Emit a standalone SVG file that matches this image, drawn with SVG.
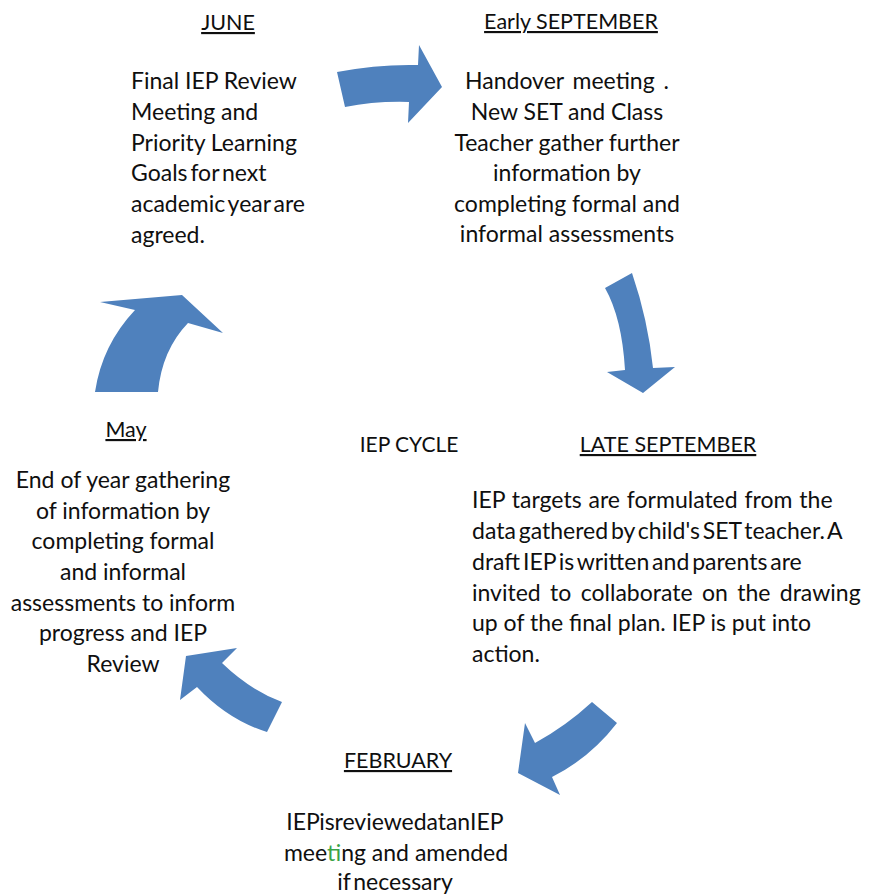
<svg xmlns="http://www.w3.org/2000/svg" width="871" height="894" viewBox="0 0 871 894">
<style>
  text { font-family: Lato, "Liberation Sans", sans-serif; font-size: 23px; fill: #0f0f0f; }
  .h { text-decoration: underline; font-size: 21.5px; }
  .c { text-anchor: middle; }
  .arrow { fill: #4f81bd; stroke: none; }
  .tight { word-spacing: -3px; }
  .wide { word-spacing: 3.5px; }
</style>
<rect width="871" height="894" fill="#ffffff"/>
<g id="connectors">
  <path class="arrow" d="M337,72 Q378,64 418,65 L419,45 L442,87 L408,123 L409,102 Q375,101 345,107 Z"/>
  <path class="arrow" d="M605,288 L632,273 Q648,320 653,368 L675,367 L643,393 L607,372 L625,370 Q622,318 605,288 Z"/>
  <path class="arrow" d="M592,702 L617,723 Q590,758 552,777 L560,795 L518,773 L525,723 L535,743 Q566,726 592,702 Z"/>
  <path class="arrow" d="M282,702 L267,732 Q228,720 197,687 L180,700 L186,656 L237,648 L222,663 Q250,690 282,702 Z"/>
  <path class="arrow" d="M95,392 L158,392 Q162,350 188,323 L223,333 L182,295 L100,302 L135,310 Q102,345 95,392 Z"/>
</g>
<g id="node-june">
  <text class="h c" x="228" y="30">JUNE</text>
  <text x="131" y="89">Final IEP Review</text>
  <text x="131" y="120">Meeting and</text>
  <text x="131" y="151">Priority Learning</text>
  <text x="131" y="181" class="tight">Goals for next</text>
  <text x="131" y="212" class="tight">academic year are</text>
  <text x="131" y="243">agreed.</text>
</g>
<g id="node-early-september">
  <text class="h c" x="571" y="29">Early SEPTEMBER</text>
  <text class="c" x="567" y="89" style="word-spacing:3px">Handover meeting .</text>
  <text class="c" x="567" y="120">New SET and Class</text>
  <text class="c" x="567" y="151">Teacher gather further</text>
  <text class="c" x="567" y="181">information by</text>
  <text class="c" x="567" y="212">completing formal and</text>
  <text class="c" x="567" y="242">informal assessments</text>
</g>
<g id="node-cycle">
  <text class="c" x="409" y="452" style="font-size:21px">IEP CYCLE</text>
</g>
<g id="node-late-september">
  <text class="h c" x="668" y="452">LATE SEPTEMBER</text>
  <text x="472" y="508" style="word-spacing:1px">IEP targets are formulated from the</text>
  <text x="472" y="539" class="tight">data gathered by child's SET teacher. A</text>
  <text x="472" y="570" class="tight">draft IEP is written and parents are</text>
  <text x="472" y="601" class="wide">invited to collaborate on the drawing</text>
  <text x="472" y="631">up of the final plan. IEP is put into</text>
  <text x="472" y="662">action.</text>
</g>
<g id="node-february">
  <text class="h c" x="398" y="768">FEBRUARY</text>
  <text class="c tight" x="395" y="830" style="word-spacing:-6px">IEP is reviewed at an IEP</text>
  <text class="c" x="396" y="861">mee<tspan fill="#3aa346">t</tspan>ing and amended</text>
  <text class="c tight" x="395" y="890">if necessary</text>
</g>
<g id="node-may">
  <text class="h c" x="126" y="437">May</text>
  <text class="c" x="123" y="488">End of year gathering</text>
  <text class="c" x="123" y="519">of information by</text>
  <text class="c" x="123" y="549">completing formal</text>
  <text class="c" x="123" y="580">and informal</text>
  <text class="c" x="123" y="611">assessments to inform</text>
  <text class="c" x="123" y="641">progress and IEP</text>
  <text class="c" x="123" y="672">Review</text>
</g>
</svg>
